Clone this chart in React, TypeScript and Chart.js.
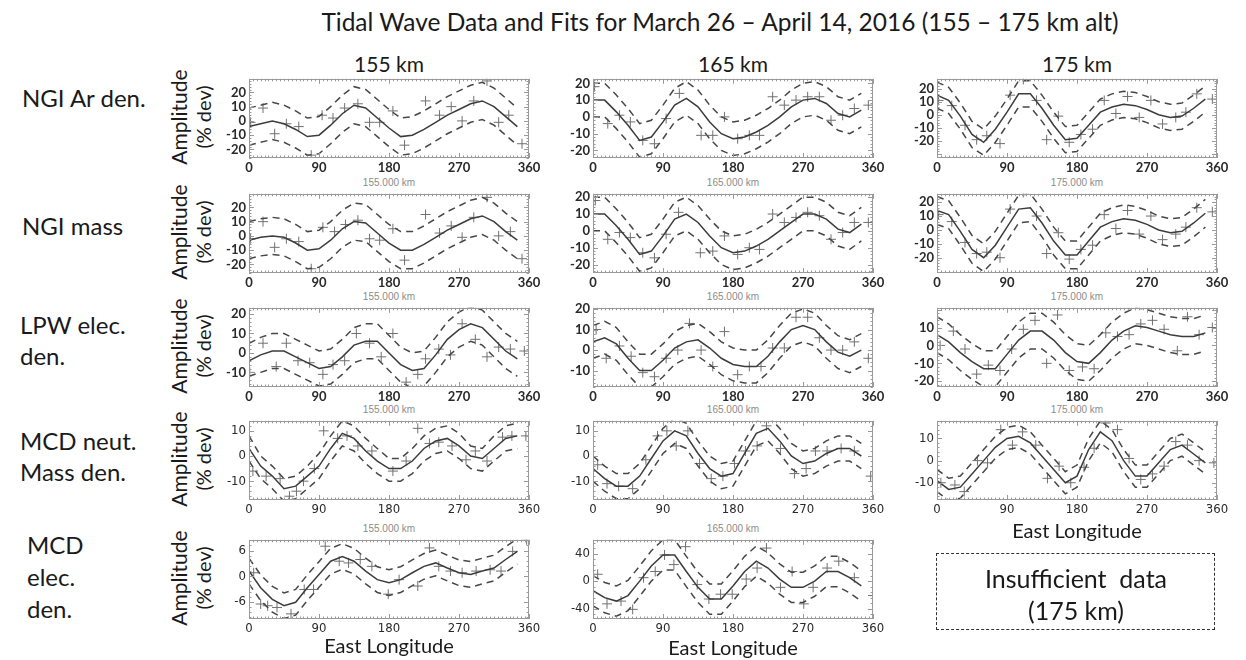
import React, { useEffect, useRef } from "react";
import { Chart, registerables } from "chart.js";

Chart.register(...registerables);

// ---------------- data ----------------
const LON_FIT = [0, 15, 30, 45, 60, 75, 90, 105, 120, 135, 150, 165, 180, 195, 210, 225, 240, 255, 270, 285, 300, 315, 330, 345];
const X_TICKS = [0, 90, 180, 270, 360];

// NGI Ar density
const ngiAr155Fit = [-4, -2, 0, -2, -6, -11, -10, -3, 5, 11, 9, 2, -5, -11, -10, -6, -1, 4, 8, 12, 14, 10, 3, -4];
const ngiAr155Up = [9, 11, 13, 11, 7, 2, 3, 10, 18, 24, 22, 15, 8, 2, 3, 7, 12, 17, 21, 25, 27, 23, 16, 9];
const ngiAr155Lo = [-17, -15, -13, -15, -19, -24, -23, -16, -8, -2, -4, -11, -18, -24, -23, -19, -14, -9, -5, -1, 1, -3, -10, -17];
const ngiAr155PtLon = [2, 18, 33, 48, 64, 80, 94, 108, 123, 140, 155, 168, 185, 200, 227, 245, 260, 274, 289, 306, 321, 334, 351];
const ngiAr155PtVal = [-1, 9, -9, -2, -4, -24, 4, 2, 9, 12, -1, -1, 7, -17, 14, 4, 10, 0, 14, 28, -1, 4, -16];

const ngiAr165Fit = [10, 10, 3, -5, -14, -12, -3, 7, 11, 6, -3, -10, -13, -12, -9, -5, 0, 6, 10, 11, 8, 2, 0, 4];
const ngiAr165Up = [20, 20, 13, 5, -4, -2, 7, 17, 21, 16, 7, 0, -3, -2, 1, 5, 10, 16, 20, 21, 18, 12, 10, 14];
const ngiAr165Lo = [0, 0, -7, -15, -24, -22, -13, -3, 1, -4, -13, -20, -23, -22, -19, -15, -10, -4, 0, 1, -2, -8, -10, -6];
const ngiAr165PtLon = [2, 19, 34, 48, 64, 79, 94, 111, 139, 154, 169, 186, 201, 214, 231, 246, 261, 276, 291, 306, 321, 336, 354];
const ngiAr165PtVal = [18, -4, 1, -3, -14, -16, -1, 14, -11, -11, 0, -13, -11, -11, 12, 7, 10, 12, 12, -2, 1, 5, 7];

const ngiAr175Fit = [15, 11, -1, -15, -21, -11, 2, 16, 16, 5, -8, -19, -18, -8, 2, 6, 8, 7, 4, 0, -2, -1, 5, 12];
const ngiAr175Up = [25, 21, 9, -5, -11, -1, 12, 26, 26, 15, 2, -9, -8, 2, 12, 16, 18, 17, 14, 10, 8, 9, 15, 22];
const ngiAr175Lo = [5, 1, -11, -25, -31, -21, -8, 6, 6, -5, -18, -29, -28, -18, -8, -4, -2, -3, -6, -10, -12, -11, -5, 2];
const ngiAr175PtLon = [2, 19, 36, 51, 64, 81, 94, 111, 128, 141, 156, 170, 185, 200, 215, 230, 245, 260, 275, 290, 307, 320, 334, 354];
const ngiAr175PtVal = [11, 7, -8, -19, -16, -22, 15, 27, 11, -19, -1, -21, -15, -11, 11, 1, 14, -2, 11, -7, -2, 2, 16, 12];

// NGI mass density
const ngiMass155Fit = [-3, -1, 0, -1, -5, -10, -9, -3, 5, 10, 9, 2, -5, -10, -10, -6, -1, 4, 8, 12, 14, 10, 3, -3];
const ngiMass155Up = [10, 12, 13, 12, 8, 3, 4, 10, 18, 23, 22, 15, 8, 3, 3, 7, 12, 17, 21, 25, 27, 23, 16, 10];
const ngiMass155Lo = [-16, -14, -13, -14, -18, -23, -22, -16, -8, -3, -4, -11, -18, -23, -23, -19, -14, -9, -5, -1, 1, -3, -10, -16];
const ngiMass155PtLon = [2, 18, 33, 48, 64, 80, 95, 110, 124, 140, 155, 168, 185, 200, 227, 245, 260, 274, 289, 306, 321, 336, 351];
const ngiMass155PtVal = [-2, 10, -8, -2, -4, -23, 6, 3, 8, 11, -2, -3, 5, -17, 15, 2, 7, -1, 13, 27, 0, 3, -16];

const ngiMass165Fit = [10, 10, 3, -5, -14, -12, -3, 7, 10, 5, -3, -10, -13, -12, -9, -5, 0, 5, 10, 10, 7, 1, -1, 4];
const ngiMass165Up = [20, 20, 13, 5, -4, -2, 7, 17, 20, 15, 7, 0, -3, -2, 1, 5, 10, 15, 20, 20, 17, 11, 9, 14];
const ngiMass165Lo = [0, 0, -7, -15, -24, -22, -13, -3, 0, -5, -13, -20, -23, -22, -19, -15, -10, -5, 0, 0, -3, -9, -11, -6];
const ngiMass165PtLon = [3, 19, 34, 48, 64, 79, 94, 110, 138, 154, 169, 186, 201, 214, 231, 246, 261, 276, 291, 306, 321, 336, 354];
const ngiMass165PtVal = [18, -5, -1, -4, -13, -16, -2, 11, -13, -12, -3, -14, -10, -11, 10, 5, 8, 11, 9, -5, -1, 5, 5];

const ngiMass175Fit = [14, 11, -1, -14, -20, -11, 2, 15, 16, 5, -8, -18, -18, -8, 2, 6, 8, 7, 4, 0, -2, -1, 5, 12];
const ngiMass175Up = [24, 21, 9, -4, -10, -1, 12, 25, 26, 15, 2, -8, -8, 2, 12, 16, 18, 17, 14, 10, 8, 9, 15, 22];
const ngiMass175Lo = [4, 1, -11, -24, -30, -21, -8, 5, 6, -5, -18, -28, -28, -18, -8, -4, -2, -3, -6, -10, -12, -11, -5, 2];
const ngiMass175PtLon = [2, 19, 36, 51, 64, 81, 94, 111, 128, 141, 156, 170, 185, 200, 215, 230, 245, 260, 275, 290, 307, 320, 334, 354];
const ngiMass175PtVal = [11, 6, -9, -17, -16, -20, 15, 27, 10, -17, -2, -21, -14, -11, 11, 1, 14, -3, 10, -7, -3, 2, 16, 13];

// LPW electron density
const lpw155Fit = [-4, -1, 1, 1, -2, -5, -8, -7, -2, 4, 6, 6, 0, -6, -9, -8, -1, 7, 12, 15, 13, 7, 1, -3];
const lpw155Up = [5, 8, 10, 10, 7, 4, 1, 2, 7, 13, 15, 15, 9, 3, 0, 1, 8, 16, 21, 24, 22, 16, 10, 6];
const lpw155Lo = [-12, -10, -8, -8, -11, -14, -17, -16, -11, -5, -3, -3, -9, -15, -18, -17, -10, -2, 3, 6, 4, -2, -8, -12];
const lpw155PtLon = [1, 18, 35, 48, 63, 78, 95, 108, 123, 138, 155, 170, 185, 202, 217, 227, 244, 259, 274, 291, 306, 321, 336, 354];
const lpw155PtVal = [-10, 5, -7, 5, -4, -5, -11, -6, -4, 10, 5, -2, 10, -15, -11, -3, 2, -1, 15, 7, -2, 3, 2, 1];

const lpw165Fit = [4, 6, 3, -4, -10, -10, -5, 1, 4, 5, 1, -4, -7, -8, -8, -3, 4, 10, 12, 10, 4, -1, -3, 0];
const lpw165Up = [12, 14, 11, 4, -2, -2, 3, 9, 12, 13, 9, 4, 1, 0, 0, 5, 12, 18, 20, 18, 12, 7, 5, 8];
const lpw165Lo = [-4, -2, -5, -12, -18, -18, -13, -7, -4, -3, -7, -12, -15, -16, -16, -11, -4, 2, 4, 2, -4, -9, -11, -8];
const lpw165PtLon = [4, 17, 34, 49, 64, 79, 94, 109, 124, 139, 154, 169, 186, 201, 216, 231, 246, 261, 276, 291, 306, 321, 336, 354];
const lpw165PtVal = [10, -4, 2, -3, -11, -13, -4, 0, 13, 0, -8, 9, -12, -8, -8, 1, 1, 16, 16, 6, 0, 0, 4, -4];

const lpw175Fit = [6, 2, -4, -9, -13, -13, -5, 3, 8, 8, 3, -4, -9, -10, -4, 3, 8, 11, 10, 8, 6, 5, 5, 7];
const lpw175Up = [16, 12, 6, 1, -3, -3, 5, 13, 18, 18, 13, 6, 1, 0, 6, 13, 18, 21, 20, 18, 16, 15, 15, 17];
const lpw175Lo = [-4, -8, -14, -19, -23, -23, -15, -7, -2, -2, -7, -14, -19, -20, -14, -7, -2, 1, 0, -2, -4, -5, -5, -3];
const lpw175PtLon = [4, 21, 36, 51, 66, 81, 96, 111, 126, 141, 155, 170, 187, 202, 217, 232, 247, 262, 277, 292, 309, 322, 337, 354];
const lpw175PtVal = [0, 8, -2, -16, -11, -14, -2, 9, 14, -10, 17, -14, -12, -13, 7, 5, 6, 12, 14, 9, -3, 16, 6, 10];

// MCD neutral mass density
const mcdNeut155Fit = [3, -4, -8, -13, -12, -8, -4, 3, 9, 7, 2, -2, -5, -5, -2, 3, 6, 7, 4, 0, -1, 3, 7, 8];
const mcdNeut155Up = [8, 0, -4, -9, -8, -4, 1, 8, 14, 12, 7, 3, -1, -1, 3, 8, 11, 12, 9, 4, 3, 8, 12, 13];
const mcdNeut155Lo = [-2, -9, -13, -18, -17, -13, -9, -2, 4, 2, -3, -7, -10, -10, -7, -2, 1, 2, -1, -5, -6, -2, 2, 3];
const mcdNeut155PtLon = [5, 22, 40, 52, 61, 70, 84, 96, 114, 126, 140, 158, 185, 202, 217, 232, 244, 261, 279, 291, 306, 326, 338, 356];
const mcdNeut155PtVal = [-6, -8, -9, -16, -14, -10, -5, 10, 7, 8, 4, 2, -6, -2, 11, 5, 5.5, 4, -1.5, 2, -2, 7.5, 8, 8];

const mcdNeut165Fit = [-5, -9, -12, -12, -8, -1, 6, 10, 8, 1, -5, -8, -7, 1, 9, 11, 6, 0, -3, -2, 1, 3, 3, 0];
const mcdNeut165Up = [0, -4, -7, -7, -3, 4, 11, 15, 13, 6, 0, -3, -2, 6, 14, 16, 11, 5, 2, 3, 6, 8, 8, 5];
const mcdNeut165Lo = [-10, -14, -17, -17, -13, -6, 1, 5, 3, -4, -10, -13, -12, -4, 4, 6, 1, -5, -8, -7, -4, -2, -2, -5];
const mcdNeut165PtLon = [6, 18, 33, 51, 68, 83, 95, 107, 122, 137, 152, 167, 182, 196, 211, 223, 241, 259, 274, 286, 301, 319, 336, 357];
const mcdNeut165PtVal = [-3.5, -11, -12, -13, -1.5, 8, 10, 4, 10, -3, -9, -8, -3, 2, 4, 12, 3, -7, -5, 2, 2, 3, 2, -8];

const mcdNeut175Fit = [-9, -13, -12, -6, 0, 6, 10, 11, 8, 2, -4, -10, -7, 5, 13, 9, 0, -7, -7, -1, 5, 7, 3, -1];
const mcdNeut175Up = [-4, -8, -7, -1, 5, 11, 15, 16, 13, 7, 1, -5, -2, 10, 18, 14, 5, -2, -2, 4, 10, 12, 8, 4];
const mcdNeut175Lo = [-14, -18, -17, -11, -5, 1, 5, 6, 3, -3, -9, -15, -12, 0, 8, 4, -5, -12, -12, -6, 0, 2, -2, -6];
const mcdNeut175PtLon = [5, 23, 35, 52, 65, 82, 97, 110, 127, 142, 157, 172, 189, 202, 217, 232, 247, 262, 277, 292, 307, 322, 337, 356];
const mcdNeut175PtVal = [-10, -11, -14, 0, -1, 14, 7, 13, 7, -8, -2.5, -10, -3, 5.6, 17, 14, 1, -8.5, -6, -2.5, 8.6, 7, 0, -1];

// MCD electron density
const mcdElec155Fit = [1.2, -2.7, -5.4, -6.9, -6.1, -2.7, 0.4, 3.5, 4.6, 3.5, 1.2, -0.8, -1.5, -0.8, 0.8, 2.3, 3.1, 1.9, 0.8, 0.4, 1.2, 1.9, 3.9, 5.8];
const mcdElec155Up = [4.2, 0.3, -2.4, -3.9, -3.1, 0.3, 3.4, 6.5, 7.6, 6.5, 4.2, 2.2, 1.5, 2.2, 3.8, 5.3, 6.1, 4.9, 3.8, 3.4, 4.2, 4.9, 6.9, 8.8];
const mcdElec155Lo = [-1.8, -5.7, -8.4, -9.9, -9.1, -5.7, -2.6, 0.5, 1.6, 0.5, -1.8, -3.8, -4.5, -3.8, -2.2, -0.7, 0.1, -1.1, -2.2, -2.6, -1.8, -1.1, 0.9, 2.8];
const mcdElec155PtLon = [6, 15, 24, 36, 54, 71, 83, 98, 116, 128, 143, 158, 179, 193, 217, 232, 244, 259, 274, 292, 310, 324, 339, 357];
const mcdElec155PtVal = [0.8, -6.5, -6.9, -7.3, -8.8, -3.1, -3.1, 7, 3.5, 3.1, 3.9, 2.3, -4.2, -0.8, -2.3, 6.6, 2.3, 1.2, 0.8, 1.2, 1.5, 1.2, 5.8, 8.5];

const mcdElec165Fit = [-14, -24, -29, -21, 0, 22, 38, 38, 14, -9, -26, -26, -7, 14, 29, 19, 3, -9, -9, 0, 14, 14, 5, -7];
const mcdElec165Up = [8, -2, -7, 1, 22, 44, 60, 60, 36, 13, -4, -4, 15, 36, 51, 41, 25, 13, 13, 22, 36, 36, 27, 15];
const mcdElec165Lo = [-36, -46, -51, -43, -22, 0, 16, 16, -8, -31, -48, -48, -29, -8, 7, -3, -19, -31, -31, -22, -8, -8, -17, -29];
const mcdElec165PtLon = [6, 18, 36, 51, 65, 80, 92, 104, 119, 134, 149, 164, 179, 197, 211, 223, 241, 256, 271, 283, 301, 316, 336, 360];
const mcdElec165PtVal = [10, -33, -29, -41, 5, 14, 38, 24, 50, -5, -26, -19, -19, 3, 19, 48, -9, 14, -33, -9, 19, 29, 5, -21];

const TICKS_20 = [-20, -10, 0, 10, 20];
const TICKS_G = [-10, 0, 10, 20];
const TICKS_I = [-20, -10, 0, 10];
const TICKS_10 = [-10, 0, 10];
const TICKS_6 = [-6, 0, 6];
const TICKS_40 = [-40, 0, 40];

const ALTS = ["155", "165", "175"];

type PanelDef = {
  row: number; col: number;
  fit: number[]; up: number[]; lo: number[];
  ptLon: number[]; ptVal: number[];
  yMin: number; yMax: number; yTicks: number[];
};

const PANELS: PanelDef[] = [
  { row: 0, col: 0, fit: ngiAr155Fit, up: ngiAr155Up, lo: ngiAr155Lo, ptLon: ngiAr155PtLon, ptVal: ngiAr155PtVal, yMin: -26, yMax: 29.5, yTicks: TICKS_20 },
  { row: 0, col: 1, fit: ngiAr165Fit, up: ngiAr165Up, lo: ngiAr165Lo, ptLon: ngiAr165PtLon, ptVal: ngiAr165PtVal, yMin: -24.5, yMax: 22.7, yTicks: TICKS_20 },
  { row: 0, col: 2, fit: ngiAr175Fit, up: ngiAr175Up, lo: ngiAr175Lo, ptLon: ngiAr175PtLon, ptVal: ngiAr175PtVal, yMin: -33, yMax: 27.5, yTicks: TICKS_20 },
  { row: 1, col: 0, fit: ngiMass155Fit, up: ngiMass155Up, lo: ngiMass155Lo, ptLon: ngiMass155PtLon, ptVal: ngiMass155PtVal, yMin: -26, yMax: 29.5, yTicks: TICKS_20 },
  { row: 1, col: 1, fit: ngiMass165Fit, up: ngiMass165Up, lo: ngiMass165Lo, ptLon: ngiMass165PtLon, ptVal: ngiMass165PtVal, yMin: -25, yMax: 22, yTicks: TICKS_20 },
  { row: 1, col: 2, fit: ngiMass175Fit, up: ngiMass175Up, lo: ngiMass175Lo, ptLon: ngiMass175PtLon, ptVal: ngiMass175PtVal, yMin: -31, yMax: 26, yTicks: TICKS_20 },
  { row: 2, col: 0, fit: lpw155Fit, up: lpw155Up, lo: lpw155Lo, ptLon: lpw155PtLon, ptVal: lpw155PtVal, yMin: -17.5, yMax: 23.2, yTicks: TICKS_G },
  { row: 2, col: 1, fit: lpw165Fit, up: lpw165Up, lo: lpw165Lo, ptLon: lpw165PtLon, ptVal: lpw165PtVal, yMin: -18, yMax: 20.6, yTicks: TICKS_G },
  { row: 2, col: 2, fit: lpw175Fit, up: lpw175Up, lo: lpw175Lo, ptLon: lpw175PtLon, ptVal: lpw175PtVal, yMin: -23.2, yMax: 21, yTicks: TICKS_I },
  { row: 3, col: 0, fit: mcdNeut155Fit, up: mcdNeut155Up, lo: mcdNeut155Lo, ptLon: mcdNeut155PtLon, ptVal: mcdNeut155PtVal, yMin: -17.5, yMax: 14, yTicks: TICKS_10 },
  { row: 3, col: 1, fit: mcdNeut165Fit, up: mcdNeut165Up, lo: mcdNeut165Lo, ptLon: mcdNeut165PtLon, ptVal: mcdNeut165PtVal, yMin: -17.5, yMax: 14, yTicks: TICKS_10 },
  { row: 3, col: 2, fit: mcdNeut175Fit, up: mcdNeut175Up, lo: mcdNeut175Lo, ptLon: mcdNeut175PtLon, ptVal: mcdNeut175PtVal, yMin: -17.8, yMax: 18, yTicks: TICKS_10 },
  { row: 4, col: 0, fit: mcdElec155Fit, up: mcdElec155Up, lo: mcdElec155Lo, ptLon: mcdElec155PtLon, ptVal: mcdElec155PtVal, yMin: -10, yMax: 8.5, yTicks: TICKS_6 },
  { row: 4, col: 1, fit: mcdElec165Fit, up: mcdElec165Up, lo: mcdElec165Lo, ptLon: mcdElec165PtLon, ptVal: mcdElec165PtVal, yMin: -55, yMax: 60, yTicks: TICKS_40 },
];

// ---------------- layout / style ----------------
const COL_LEFT = [249, 593, 937];
const ROW_TOP = [76, 191, 305, 418, 537];
const BOX_W = 280;
const BOX_H = 82;
const YW = 36;
const PT = 8;
const PR = 16;
const XH = 22;

const TEXT_FONT = "Lato, 'Open Sans', sans-serif";
const TICK_FONT_A = { family: "Lato, 'Open Sans', sans-serif", size: 13, weight: "bold" as const };
const TICK_FONT_B = { family: "'Liberation Sans Narrow', 'DejaVu Sans Condensed', 'Liberation Sans', sans-serif", size: 13, weight: "normal" as const };

const boxPlugin = {
  id: "idlBox",
  afterDatasetsDraw(chart: any) {
    const { ctx, chartArea: a, scales } = chart;
    const xs = scales.x;
    const ys = scales.y;
    ctx.save();
    ctx.strokeStyle = "#9a9a9a";
    ctx.lineWidth = 1;
    ctx.strokeRect(Math.round(a.left) + 0.5, Math.round(a.top) + 0.5, Math.round(a.right - a.left) - 1, Math.round(a.bottom - a.top) - 1);
    ctx.beginPath();
    for (let i = 0; i <= 72; i++) {
      const v = i * 5;
      const px = Math.round(xs.getPixelForValue(v)) + 0.5;
      const L = v % 90 === 0 ? 5 : 2.5;
      ctx.moveTo(px, a.bottom);
      ctx.lineTo(px, a.bottom - L);
      ctx.moveTo(px, a.top);
      ctx.lineTo(px, a.top + L);
    }
    const tv = ys.ticks.map((t: any) => t.value);
    const major = tv.length > 1 ? tv[1] - tv[0] : 10;
    const minor = major / 5;
    const start = Math.ceil(ys.min / minor);
    const end = Math.floor(ys.max / minor);
    for (let k = start; k <= end; k++) {
      const v = k * minor;
      const py = Math.round(ys.getPixelForValue(v)) + 0.5;
      const L = k % 5 === 0 ? 5 : 2.5;
      ctx.moveTo(a.left, py);
      ctx.lineTo(a.left + L, py);
      ctx.moveTo(a.right, py);
      ctx.lineTo(a.right - L, py);
    }
    ctx.stroke();
    ctx.restore();
  },
};

function Panel({ p }: { p: PanelDef }) {
  const ref = useRef<HTMLCanvasElement | null>(null);
  useEffect(() => {
    if (!ref.current) return;
    const tickFont = p.row >= 3 ? TICK_FONT_B : TICK_FONT_A;
    const toPts = (ys: number[]) => LON_FIT.map((x, i) => ({ x, y: ys[i] }));
    const chart = new Chart(ref.current, {
      type: "scatter",
      data: {
        datasets: [
          { data: toPts(p.up), showLine: true, borderColor: "#474747", borderWidth: 1.5, borderDash: [7, 5], pointRadius: 0, tension: 0 },
          { data: toPts(p.lo), showLine: true, borderColor: "#474747", borderWidth: 1.5, borderDash: [7, 5], pointRadius: 0, tension: 0 },
          { data: toPts(p.fit), showLine: true, borderColor: "#3c3c3c", borderWidth: 1.5, pointRadius: 0, tension: 0 },
          {
            data: p.ptLon.map((x, i) => ({ x, y: p.ptVal[i] })),
            showLine: false,
            pointStyle: "cross",
            pointRadius: 5,
            pointBorderWidth: 1,
            borderColor: "#707070",
            backgroundColor: "#707070",
          },
        ],
      } as any,
      options: {
        responsive: false,
        animation: false,
        devicePixelRatio: 1,
        layout: { padding: { top: PT, right: PR, left: 0, bottom: 0 } },
        plugins: { legend: { display: false }, tooltip: { enabled: false } },
        events: [],
        scales: {
          x: {
            type: "linear",
            min: 0,
            max: 360,
            grid: { display: false, drawTicks: false, tickLength: 0 },
            border: { display: false },
            afterBuildTicks: (s: any) => { s.ticks = X_TICKS.map((v) => ({ value: v })); },
            afterFit: (s: any) => { s.height = XH; },
            ticks: { font: tickFont, color: "#2a2a2a", padding: 2, maxRotation: 0, autoSkip: false, callback: (v: any) => String(v) },
          },
          y: {
            type: "linear",
            min: p.yMin,
            max: p.yMax,
            grid: { display: false, drawTicks: false, tickLength: 0 },
            border: { display: false },
            afterBuildTicks: (s: any) => { s.ticks = p.yTicks.map((v) => ({ value: v })); },
            afterFit: (s: any) => { s.width = YW; },
            ticks: { font: tickFont, color: "#2a2a2a", padding: 3, autoSkip: false, callback: (v: any) => String(v) },
          },
        },
      } as any,
      plugins: [boxPlugin],
    });
    return () => chart.destroy();
  }, [p]);
  return (
    <canvas
      ref={ref}
      width={YW + BOX_W + PR}
      height={PT + BOX_H + XH}
      style={{ position: "absolute", left: COL_LEFT[p.col] - YW, top: ROW_TOP[p.row] - PT, width: YW + BOX_W + PR, height: PT + BOX_H + XH }}
    />
  );
}

function Txt({ x, y, size, children, rot = false, left = false, color = "#1a1a1a", family = TEXT_FONT, pre = false }: any) {
  const tf = left ? "translate(0,-50%)" : `translate(-50%,-50%)${rot ? " rotate(-90deg)" : ""}`;
  return (
    <div
      style={{
        position: "absolute",
        left: x,
        top: y,
        transform: tf,
        fontSize: size,
        fontFamily: family,
        color,
        whiteSpace: pre ? "pre" : "nowrap",
        lineHeight: 1,
      }}
    >
      {children}
    </div>
  );
}

const ROW_LABELS: { x: number; y: number; t: string }[] = [
  { x: 22, y: 98, t: "NGI Ar den." },
  { x: 22, y: 226, t: "NGI mass" },
  { x: 20, y: 325, t: "LPW elec." },
  { x: 20, y: 356, t: "den." },
  { x: 20, y: 441, t: "MCD neut." },
  { x: 20, y: 472, t: "Mass den." },
  { x: 27, y: 545, t: "MCD" },
  { x: 27, y: 577, t: "elec." },
  { x: 27, y: 609, t: "den." },
];

export default function App() {
  const colCenter = (c: number) => COL_LEFT[c] + BOX_W / 2;
  return (
    <div style={{ position: "absolute", left: 0, top: 0, width: 1246, height: 660, background: "#fff", overflow: "hidden" }}>
      <Txt x={720} y={22} size={24.5}>Tidal Wave Data and Fits for March 26 – April 14, 2016 (155 – 175 km alt)</Txt>
      {ALTS.map((a, c) => (
        <Txt key={"h" + c} x={colCenter(c)} y={63} size={21}>{a} km</Txt>
      ))}
      {ROW_LABELS.map((r, i) => (
        <Txt key={"r" + i} x={r.x} y={r.y} size={24} left>{r.t}</Txt>
      ))}
      {ROW_TOP.map((t, i) => (
        <React.Fragment key={"a" + i}>
          <Txt x={178} y={t + BOX_H / 2} size={21} rot>Amplitude</Txt>
          <Txt x={203} y={t + BOX_H / 2} size={20} rot>(% dev)</Txt>
        </React.Fragment>
      ))}
      {PANELS.filter((p) => p.row > 0).map((p, i) => (
        <Txt key={"s" + i} x={colCenter(p.col)} y={ROW_TOP[p.row] - 8} size={10} color="#8c8c8c" family="'Liberation Sans', Arial, sans-serif">
          {ALTS[p.col]}.000 km
        </Txt>
      ))}
      {PANELS.map((p, i) => (
        <Panel key={"p" + i} p={p} />
      ))}
      <Txt x={colCenter(0)} y={645} size={20}>East Longitude</Txt>
      <Txt x={colCenter(1)} y={647} size={20}>East Longitude</Txt>
      <Txt x={colCenter(2)} y={530} size={20}>East Longitude</Txt>
      <div style={{ position: "absolute", left: 936, top: 553, width: 279, height: 77, border: "1.5px dashed #333", boxSizing: "border-box" }} />
      <Txt x={1076} y={578} size={25} pre>Insufficient  data</Txt>
      <Txt x={1076} y={610} size={25}>(175 km)</Txt>
    </div>
  );
}
